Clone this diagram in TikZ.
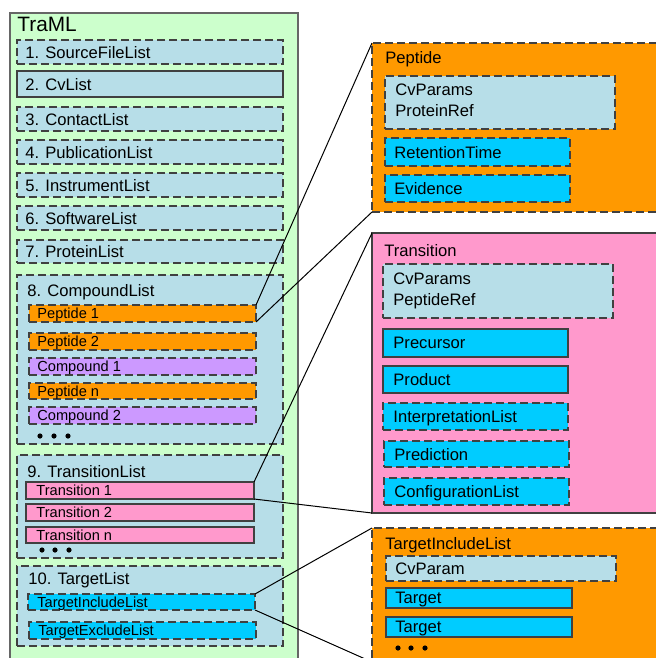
\documentclass[tikz,border=0pt]{standalone}
\usepackage{fontspec}
\setmainfont{Liberation Sans}

\definecolor{tramlgreen}{RGB}{204,255,204}
\definecolor{listblue}{RGB}{183,222,232}
\definecolor{peporange}{RGB}{255,153,0}
\definecolor{cmpdpurple}{RGB}{204,153,255}
\definecolor{transpink}{RGB}{255,153,204}
\definecolor{itemcyan}{RGB}{0,204,255}
\definecolor{edgegray}{RGB}{64,64,64}

\begin{document}
\begin{tikzpicture}[
    x=0.5pt, y=-0.5pt,
    % Common Styles
    any_box/.style={
        draw=edgegray,
        line width=0.6pt,
        inner sep=0pt,
        outer sep=0pt,
        anchor=north west
    },
    dash_line/.style={
        dash pattern=on 4pt off 2pt
    },
    list_box/.style={
        any_box,
        fill=listblue,
        minimum width=133pt
    },
    item_box/.style={
        any_box,
        minimum width=113.5pt,
        minimum height=8.5pt
    },
    sub_box/.style={
        any_box,
        fill=itemcyan,
        minimum width=92.5pt
    },
    panel_box/.style={
        any_box,
        minimum width=149pt
    },
    title_text/.style={
        font=\fontsize{10.4}{12}\selectfont,
        anchor=west, inner sep=0pt, text depth=0pt
    },
    heading_text/.style={
        font=\fontsize{8.3}{10.5}\selectfont,
        anchor=west, inner sep=0pt, text depth=0pt, align=left
    },
    item_text/.style={
        font=\fontsize{7.3}{8.5}\selectfont,
        anchor=west, inner sep=0pt, text depth=0pt
    },
    link/.style={
        black,
        line width=0.5pt
    }
]
    \clip (0,0) rectangle (656,658);

    % ================= TRAML =================
    \node[any_box, draw=black!60, fill=tramlgreen, minimum width=144pt, minimum height=333.5pt] (traml) at (10,13) {};
    \node[title_text] (tramltitle) at (17,24) {TraML};

    % Plain lists 1--7
    \foreach \n/\y/\h/\s/\t in {1/40/12pt/dash_line/1. SourceFileList,
                                2/71/13pt/solid/2. CvList,
                                3/107/12pt/dash_line/3. ContactList,
                                4/140/12pt/dash_line/4. PublicationList,
                                5/173/12pt/dash_line/5. InstrumentList,
                                6/206/12pt/dash_line/6. SoftwareList,
                                7/240/11.5pt/dash_line/7. ProteinList} {
        \node[list_box, \s, minimum height=\h] (list\n) at (17,\y) {};
        \node[heading_text] (listtext\n) at ([xshift=4pt]list\n.west) {\t};
    }

    % 8. CompoundList
    \node[list_box, dash_line, minimum height=84.5pt] (cmpdlist) at (17,275) {};
    \node[heading_text] (cmpdtitle) at (27,290) {8. CompoundList};
    \node[item_box, dash_line, fill=peporange] (pep1) at (29,305) {};
    \node[item_box, dash_line, fill=peporange] (pep2) at (29,333) {};
    \node[item_box, dash_line, fill=cmpdpurple] (cmpd1) at (29,358) {};
    \node[item_box, dash_line, fill=peporange, minimum height=8pt] (pepn) at (29,383) {};
    \node[item_box, dash_line, fill=cmpdpurple] (cmpd2) at (29,407) {};
    \node[item_text] at ([xshift=4pt]pep1.west) {Peptide 1};
    \node[item_text] at ([xshift=4pt]pep2.west) {Peptide 2};
    \node[item_text] at ([xshift=4pt]cmpd1.west) {Compound 1};
    \node[item_text] at ([xshift=4pt]pepn.west) {Peptide n};
    \node[item_text] at ([xshift=4pt]cmpd2.west) {Compound 2};
    \foreach \x in {40,54,68} {
        \fill (\x,436) circle (1.3pt);
    }

    % 9. TransitionList
    \node[list_box, dash_line, minimum height=51.5pt] (translist) at (17,455) {};
    \node[heading_text] (transtitle) at (27,471) {9. TransitionList};
    \node[item_box, fill=transpink, minimum width=114pt] (trans1) at (26,482) {};
    \node[item_box, fill=transpink, minimum width=114pt] (trans2) at (26,504) {};
    \node[item_box, fill=transpink, minimum width=114pt, minimum height=8pt] (transn) at (26,527) {};
    \node[item_text] at ([xshift=5pt]trans1.west) {Transition 1};
    \node[item_text] at ([xshift=5pt]trans2.west) {Transition 2};
    \node[item_text] at ([xshift=5pt]transn.west) {Transition n};
    \foreach \x in {42,55,69} {
        \fill (\x,550) circle (1.3pt);
    }

    % 10. TargetList
    \node[list_box, dash_line, minimum height=40pt] (targetlist) at (17,566) {};
    \node[heading_text] (targettitle) at (28,578) {10. TargetList};
    \node[item_box, dash_line, fill=itemcyan, minimum height=8pt] (tinc) at (28,594) {};
    \node[item_box, dash_line, fill=itemcyan] (texc) at (29,622) {};
    \node[item_text] at ([xshift=4.5pt]tinc.west) {TargetIncludeList};
    \node[item_text] at ([xshift=4.5pt]texc.west) {TargetExcludeList};

    % ================= PEPTIDE =================
    \node[panel_box, dash_line, fill=peporange, minimum height=84.5pt] (pep_panel) at (372,43) {};
    \node[heading_text] at (385,57) {Peptide};
    \node[any_box, dash_line, fill=listblue, minimum width=115pt, minimum height=26.5pt] (pep_cv) at (385,76) {};
    \node[heading_text] at ([xshift=5pt,yshift=1pt]pep_cv.west) {CvParams\\ProteinRef};
    \node[sub_box, dash_line, minimum height=14pt] (pep_rt) at (385,138) {};
    \node[sub_box, dash_line, minimum height=13.5pt] (pep_ev) at (385,175) {};
    \node[heading_text] at ([xshift=4.5pt]pep_rt.west) {RetentionTime};
    \node[heading_text] at ([xshift=4.5pt]pep_ev.west) {Evidence};

    % ================= TRANSITION =================
    \node[panel_box, fill=transpink, minimum height=140pt] (trans_panel) at (372,233) {};
    \node[heading_text] at (384,250) {Transition};
    \node[any_box, dash_line, fill=listblue, minimum width=115pt, minimum height=27pt] (trans_cv) at (383,264) {};
    \node[heading_text] at ([xshift=5pt,yshift=0.75pt]trans_cv.west) {CvParams\\PeptideRef};
    \node[sub_box, minimum height=14pt] (trans_prec) at (383,329) {};
    \node[sub_box, minimum height=13.5pt] (trans_prod) at (383,366) {};
    \node[sub_box, dash_line, minimum height=13.5pt] (trans_interp) at (383,403) {};
    \node[sub_box, dash_line, minimum height=13pt] (trans_pred) at (384,441) {};
    \node[sub_box, dash_line, minimum height=13.5pt] (trans_config) at (384,478) {};
    \node[heading_text] at ([xshift=5pt]trans_prec.west) {Precursor};
    \node[heading_text] at ([xshift=5pt]trans_prod.west) {Product};
    \node[heading_text] at ([xshift=5pt]trans_interp.west) {InterpretationList};
    \node[heading_text] at ([xshift=5pt]trans_pred.west) {Prediction};
    \node[heading_text] at ([xshift=5pt]trans_config.west) {ConfigurationList};

    % ================= TARGETINCLUDELIST =================
    \node[panel_box, dash_line, fill=peporange, minimum height=67pt] (tinc_panel) at (372,528) {};
    \node[heading_text] at (385,543) {TargetIncludeList};
    \node[any_box, dash_line, fill=listblue, minimum width=115pt, minimum height=12.5pt] (tinc_cv) at (386,556) {};
    \node[heading_text] at ([xshift=4.5pt]tinc_cv.west) {CvParam};
    \node[sub_box, minimum width=93pt, minimum height=10pt] (tinc_target1) at (386,588) {};
    \node[sub_box, minimum width=93pt, minimum height=10pt] (tinc_target2) at (386,617) {};
    \node[heading_text] at ([xshift=4.5pt]tinc_target1.west) {Target};
    \node[heading_text] at ([xshift=4.5pt]tinc_target2.west) {Target};
    \foreach \x in {398,411,425} {
        \fill (\x,648) circle (1.3pt);
    }

    % Zoom links
    \draw[link] (pep1.north east) -- (pep_panel.north west);
    \draw[link] (pep1.south east) -- (pep_panel.south west);
    \draw[link] (trans1.north east) -- (trans_panel.north west);
    \draw[link] (trans1.south east) -- (trans_panel.south west);
    \draw[link] (tinc.north east) -- (tinc_panel.north west);
    \draw[link] (tinc.south east) -- (tinc_panel.south west);

\end{tikzpicture}
\end{document}
